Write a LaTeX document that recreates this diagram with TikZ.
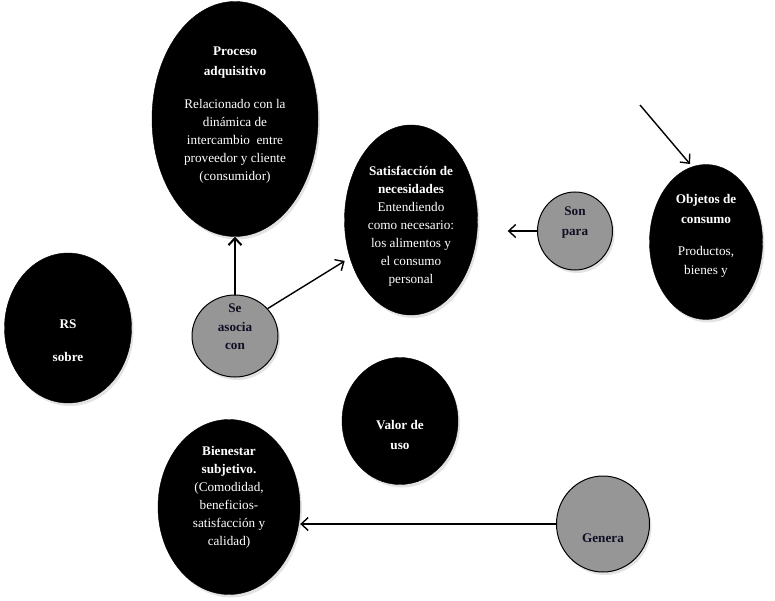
\documentclass[tikz,border=0pt]{standalone}
\usepackage{fontspec}
\setmainfont{Liberation Serif}
\usetikzlibrary{positioning, calc, arrows.meta, shapes.geometric, shadows}
\definecolor{ink}{RGB}{0,0,0}
\definecolor{stone}{RGB}{150,150,150}
\definecolor{navy}{RGB}{15,15,35}
\tikzset{
  blob/.style={ellipse,draw=ink,fill=ink,inner sep=0pt,
    drop shadow={shadow xshift=2pt,shadow yshift=-3pt,fill=black!22}},
  link/.style={ellipse,draw=ink,line width=1pt,fill=stone,inner sep=0pt,
    drop shadow={shadow xshift=2pt,shadow yshift=-3pt,fill=black!22}},
  word/.style={text=white,align=center,inner sep=0pt,font=\fontsize{13.2}{18}\selectfont},
  linkword/.style={text=navy,align=center,inner sep=0pt,font=\fontsize{13.2}{18.5}\selectfont\bfseries},
  arr/.style={-{Straight Barb[length=7pt,width=13pt]},line width=1.4pt},
}
\begin{document}
\begin{tikzpicture}[x=1pt,y=-1pt]
  \useasboundingbox (0,0) rectangle (775,601);
  % black ideas
  \node[blob,minimum width=166,minimum height=235] (proceso) at (235,119) {};
  \node[blob,minimum width=133,minimum height=190] (satis) at (411,220) {};
  \node[blob,minimum width=113,minimum height=155] (objetos) at (706,242) {};
  \node[blob,minimum width=127,minimum height=150] (rs) at (68,328) {};
  \node[blob,minimum width=116,minimum height=127] (valor) at (400,421) {};
  \node[blob,minimum width=142,minimum height=175] (bienestar) at (229,507) {};
  % grey links
  \node[link,minimum width=86,minimum height=82] (asocia) at (235,336) {};
  \node[link,minimum width=75,minimum height=78] (sonpara) at (575,231) {};
  \node[link,minimum width=93,minimum height=96] (genera) at (603,524) {};
  % texts
  \node[word] (proceso-t) at ([yshift=4pt]proceso)
    {\textbf{Proceso}\\[2pt]\textbf{adquisitivo}\\[15pt]Relacionado con la\\dinámica de\\intercambio\ \ entre\\proveedor y cliente\\(consumidor)};
  \node[word] (satis-t) at ([yshift=-6pt]satis)
    {\textbf{Satisfacción de}\\\textbf{necesidades}\\Entendiendo\\como necesario:\\los alimentos y\\el consumo\\personal};
  \node[word,font=\fontsize{13.2}{19}\selectfont] (objetos-t) at ([yshift=6pt]objetos)
    {\textbf{Objetos de}\\[1pt]\textbf{consumo}\\[13pt]Productos,\\bienes y};
  \node[word,font=\fontsize{13.2}{33}\selectfont\bfseries] (rs-t) at ([yshift=-13pt]rs) {RS\\sobre};
  \node[word,font=\fontsize{13.2}{20}\selectfont\bfseries] (valor-t) at ([yshift=-14pt]valor) {Valor de\\uso};
  \node[word] (bienestar-t) at ([yshift=10pt]bienestar)
    {\textbf{Bienestar}\\\textbf{subjetivo.}\\(Comodidad,\\beneficios-\\satisfacción y\\calidad)};
  \node[linkword] (asocia-t) at ([yshift=9pt]asocia) {Se\\asocia\\con};
  \node[linkword,font=\fontsize{13.2}{20}\selectfont\bfseries] (sonpara-t) at ([yshift=8pt]sonpara) {Son\\para};
  \node[linkword] (genera-t) at ([yshift=-14pt]genera) {Genera};
  % arrows
  \coordinate (tail) at (640,105);
  \coordinate (tip) at (690,164);
  \draw[arr,line width=2pt] (asocia) -- (proceso);
  \draw[arr,shorten >=6pt] (asocia.40) -- (satis);
  \draw[arr,shorten >=30pt] (sonpara.west) -- (satis.east |- sonpara.west);
  \draw[arr] (genera.west) -- (bienestar.east |- genera.west);
  \draw[arr] (tail) -- (tip);
\end{tikzpicture}
\end{document}
